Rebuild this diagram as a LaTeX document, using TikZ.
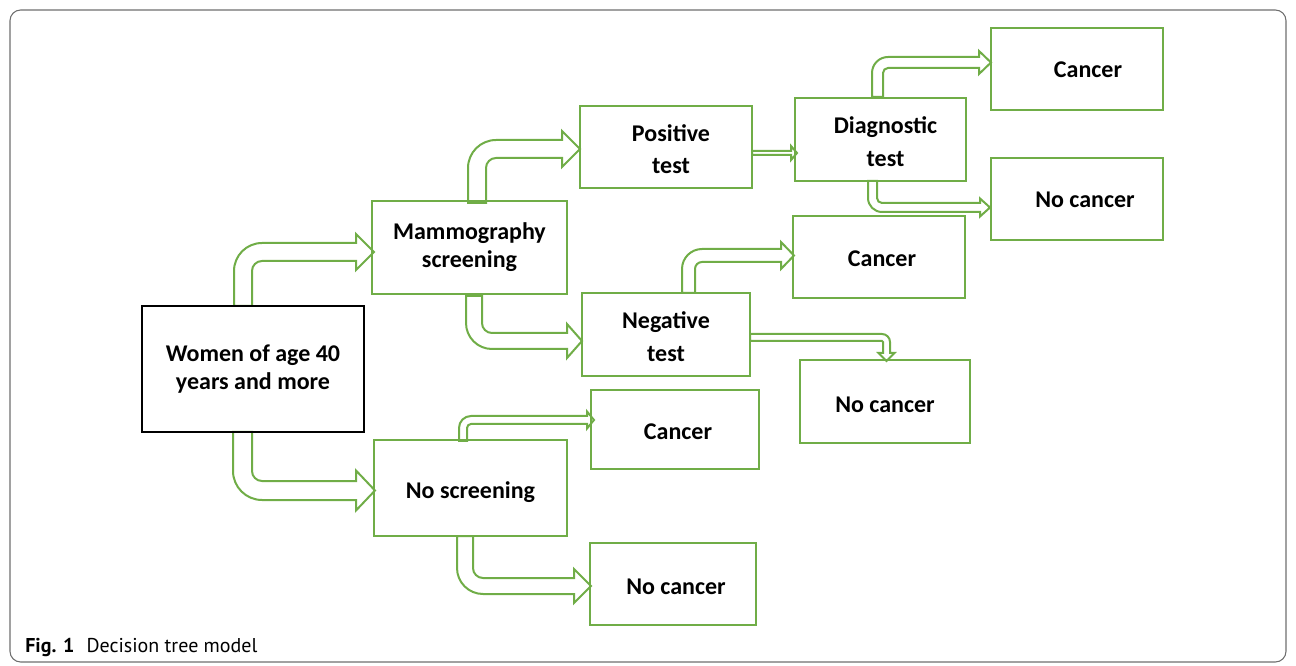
\documentclass[tikz,border=0pt]{standalone}
\usepackage{fontspec}
\setmainfont{Carlito}
\newfontfamily\capfont{PT Sans}
\definecolor{grn}{HTML}{70AD47}
\definecolor{frm}{HTML}{6E6E6E}
\newcommand\arrUR[8]{%
  \draw[arr] ({#1},{-(#2)}) -- ({#1},{-(#3)-(#5)-(#4)})
    arc[start angle=180,end angle=90,radius={(#5)+(#4)}]
    -- ({#6},{-(#3)}) -- ({#6},{-(#3)-(#4)/2+(#7)}) -- ({#8},{-(#3)-(#4)/2})
    -- ({#6},{-(#3)-(#4)/2-(#7)}) -- ({#6},{-(#3)-(#4)})
    -- ({(#1)+(#4)+(#5)},{-(#3)-(#4)})
    arc[start angle=90,end angle=180,radius={#5}]
    -- ({(#1)+(#4)},{-(#2)}) -- cycle;}
\newcommand\arrDR[8]{%
  \draw[arr] ({#1},{-(#2)}) -- ({#1},{(#5)-(#3)})
    arc[start angle=180,end angle=270,radius={(#5)+(#4)}]
    -- ({#6},{-(#3)-(#4)}) -- ({#6},{-(#3)-(#4)/2-(#7)}) -- ({#8},{-(#3)-(#4)/2})
    -- ({#6},{-(#3)-(#4)/2+(#7)}) -- ({#6},{-(#3)})
    -- ({(#1)+(#4)+(#5)},{-(#3)})
    arc[start angle=270,end angle=180,radius={#5}]
    -- ({(#1)+(#4)},{-(#2)}) -- cycle;}
\tikzset{
  arr/.style={draw=grn, line width=1.5pt, fill=white, line join=miter},
  box/.style={draw=grn, line width=1.5pt, inner sep=0pt},
  bbox/.style={box, draw=black},
  lbl/.style={align=center, inner sep=0pt, font=\fontsize{18}{21}\selectfont\bfseries},
  lblw/.style={lbl, font=\fontsize{18}{24.5}\selectfont\bfseries},
}
\begin{document}
\begin{tikzpicture}[x=0.75pt,y=0.75pt]
\useasboundingbox (0,0) rectangle (1296,-666);
\draw[frm, line width=0.8pt, rounded corners=8pt] (10,-10) rectangle (1286,-662);
% arrows
\arrUR{234}{306}{243}{18}{10}{356}{18}{374}
\arrDR{233}{432}{481}{19}{10}{356}{20}{375}
\arrUR{468}{203}{140}{18}{10}{562}{18}{580}
\arrDR{466}{296}{333}{16}{10}{567}{17}{582}
\draw[arr] (752,-151) -- (791,-151) -- (791,-146) -- (797,-153) -- (791,-160) -- (791,-155) -- (752,-155) -- cycle;
\arrUR{872}{97}{57}{11}{5}{979}{11.5}{991}
\arrDR{868}{181}{203}{9}{5}{980}{9}{990}
\arrUR{682}{293}{249}{13}{7}{781}{13.5}{794}
\draw[arr] (750,-334) -- (882,-334) arc[start angle=90,end angle=0,radius=8]
  -- (890,-353) -- (894.5,-353) -- (886.5,-361) -- (878.5,-353) -- (883,-353)
  -- (883,-342) arc[start angle=0,end angle=90,radius=1] -- (750,-341) -- cycle;
\arrUR{459}{441}{416}{8}{4}{587}{8.5}{594}
\arrDR{457}{536}{578}{16}{10}{574}{17}{591}
% boxes
\node[bbox, minimum width=222*0.75pt, minimum height=126*0.75pt] (women) at (253,-369) {};
\node[box, minimum width=195*0.75pt, minimum height=93*0.75pt] (mammo) at (469.5,-247.5) {};
\node[box, minimum width=193*0.75pt, minimum height=96*0.75pt] (nos) at (470.5,-488) {};
\node[box, minimum width=172*0.75pt, minimum height=82*0.75pt] (pos) at (666,-147) {};
\node[box, minimum width=168*0.75pt, minimum height=83*0.75pt] (neg) at (666,-334.5) {};
\node[box, minimum width=171*0.75pt, minimum height=83*0.75pt] (diag) at (880.5,-139.5) {};
\node[box, minimum width=172*0.75pt, minimum height=82*0.75pt] (c1) at (1077,-69) {};
\node[box, minimum width=172*0.75pt, minimum height=82*0.75pt] (nc1) at (1077,-199) {};
\node[box, minimum width=172*0.75pt, minimum height=82*0.75pt] (c2) at (879,-257) {};
\node[box, minimum width=170*0.75pt, minimum height=83*0.75pt] (nc2) at (885,-401.5) {};
\node[box, minimum width=168*0.75pt, minimum height=79*0.75pt] (c3) at (675,-429.5) {};
\node[box, minimum width=166*0.75pt, minimum height=82*0.75pt] (nc3) at (673,-584) {};
% labels
\node[lbl] (twomen) at (women.center) {Women of age 40\\years and more};
\node[lbl] (tmammo) at (mammo.center) {Mammography\\screening};
\node[lbl] (tnos) at ([yshift=-4*0.75pt]nos.center) {No screening};
\node[lblw] (tpos) at ([xshift=5*0.75pt,yshift=-2*0.75pt]pos.center) {Positive\\test};
\node[lblw] (tneg) at ([yshift=-2*0.75pt]neg.center) {Negative\\test};
\node[lblw] (tdiag) at ([xshift=5*0.75pt,yshift=-2*0.75pt]diag.center) {Diagnostic\\test};
\node[lbl] (tc1) at ([xshift=11*0.75pt,yshift=-1*0.75pt]c1.center) {Cancer};
\node[lbl] (tnc1) at ([xshift=8*0.75pt,yshift=-1*0.75pt]nc1.center) {No cancer};
\node[lbl] (tc2) at ([xshift=3*0.75pt,yshift=-2*0.75pt]c2.center) {Cancer};
\node[lbl] (tnc2) at ([yshift=-3*0.75pt]nc2.center) {No cancer};
\node[lbl] (tc3) at ([xshift=3*0.75pt,yshift=-2*0.75pt]c3.center) {Cancer};
\node[lbl] (tnc3) at ([xshift=3*0.75pt,yshift=-3*0.75pt]nc3.center) {No cancer};
% caption
\node[anchor=base west, inner sep=0pt, font=\capfont\fontsize{15}{17}\selectfont] (cap) at (25,-652) {\textbf{Fig. 1}\hspace{0.6em}Decision tree model};
\end{tikzpicture}
\end{document}
